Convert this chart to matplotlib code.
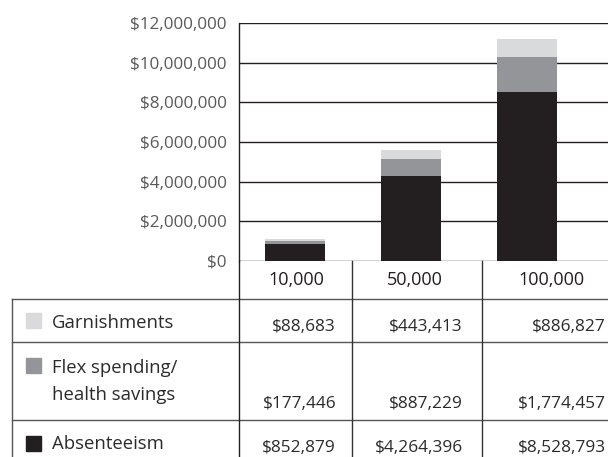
import matplotlib
matplotlib.use("Agg")
import matplotlib.pyplot as plt
from matplotlib.lines import Line2D

# ---- data ----
categories = ["10,000", "50,000", "100,000"]
series_names = ["Garnishments", "Flex spending/\nhealth savings", "Absenteeism"]
absenteeism = [852879, 4264396, 8528793]
flex = [177446, 887229, 1774457]
garnishments = [88683, 443413, 886827]
yticks = [0, 2000000, 4000000, 6000000, 8000000, 10000000, 12000000]

c_abs = "#231f20"
c_flex = "#939598"
c_garn = "#d9dadb"
txt = "#2b2b2b"
tick_col = "#5a5a5a"
line_col = "#555555"

plt.rcParams['font.family'] = ['Open Sans', 'DejaVu Sans']
FS_TICK = 12.3
FS_WORD = 13.3
FS_NUM = 12.4
FS_HEAD = 13.0

W, H = 608, 457
fig = plt.figure(figsize=(W / 100, H / 100), dpi=100)

# main chart axes (pixel layout: left 239, right 608, top 23, bottom 261)
ax = fig.add_axes([239 / W, 1 - 261 / H, (W - 239) / W, (261 - 23) / H])
x = list(range(len(categories)))
bw = 0.517
bottom2 = [a + f for a, f in zip(absenteeism, flex)]
ax.bar(x, absenteeism, width=bw, color=c_abs, zorder=3)
ax.bar(x, flex, width=bw, bottom=absenteeism, color=c_flex, zorder=3)
ax.bar(x, garnishments, width=bw, bottom=bottom2, color=c_garn, zorder=3)
ax.set_xlim(-0.483, 2.698)
ax.set_ylim(0, 12000000)
ax.set_yticks(yticks)
ax.set_yticklabels(["${:,.0f}".format(v) for v in yticks], fontsize=FS_TICK, color=tick_col)
ax.tick_params(axis='y', length=0, pad=9)
ax.set_xticks([])
ax.yaxis.grid(True, color="#231f20", linewidth=1.0, zorder=1)
ax.set_axisbelow(True)
for s in ["top", "right", "bottom"]:
    ax.spines[s].set_visible(False)
ax.spines["left"].set_color("#231f20")
ax.spines["left"].set_linewidth(1.0)
ax.patch.set_alpha(0)

# table overlay in pixel coordinates
tb = fig.add_axes([0, 0, 1, 1])
tb.set_xlim(0, W)
tb.set_ylim(H, 0)
tb.axis("off")
tb.patch.set_alpha(0)

def hline(y, x0, x1, c=line_col):
    tb.add_line(Line2D([x0, x1], [y, y], color=c, linewidth=1.0))

def vline(xx, y0, y1, c=line_col):
    tb.add_line(Line2D([xx, xx], [y0, y1], color=c, linewidth=1.0))

hline(299, 12, W)
hline(342, 12, W)
hline(420, 12, W)
vline(12, 299, H)
vline(239, 261, H, "#231f20")
vline(352, 261, H, "#333333")
vline(482, 261, H, "#333333")

# header
head_cx = [296, 415, 551]
for cx, cat in zip(head_cx, categories):
    tb.text(cx, 285, cat, ha="center", va="baseline", fontsize=FS_HEAD, color="#231f20")

# row labels with swatches
sw_colors = [c_garn, c_flex, c_abs]
sw_top = [313, 358, 436]
label_base = [328, 373, 449]
for name, col, st, lb in zip(series_names, sw_colors, sw_top, label_base):
    tb.add_patch(plt.Rectangle((26, st), 15, 15, color=col))
    lines = name.split("\n")
    for i, ln in enumerate(lines):
        tb.text(52, lb + i * 27, ln, ha="left", va="baseline", fontsize=FS_WORD, color=txt)

# values
right_edges = [336, 463, 606]
rows = [garnishments, flex, absenteeism]
val_base = [331, 408, 452]
for vals, yb in zip(rows, val_base):
    for xr, v in zip(right_edges, vals):
        tb.text(xr, yb, "${:,.0f}".format(v), ha="right", va="baseline",
                fontsize=FS_NUM, color=txt)

fig.savefig("out.png", dpi=100)
